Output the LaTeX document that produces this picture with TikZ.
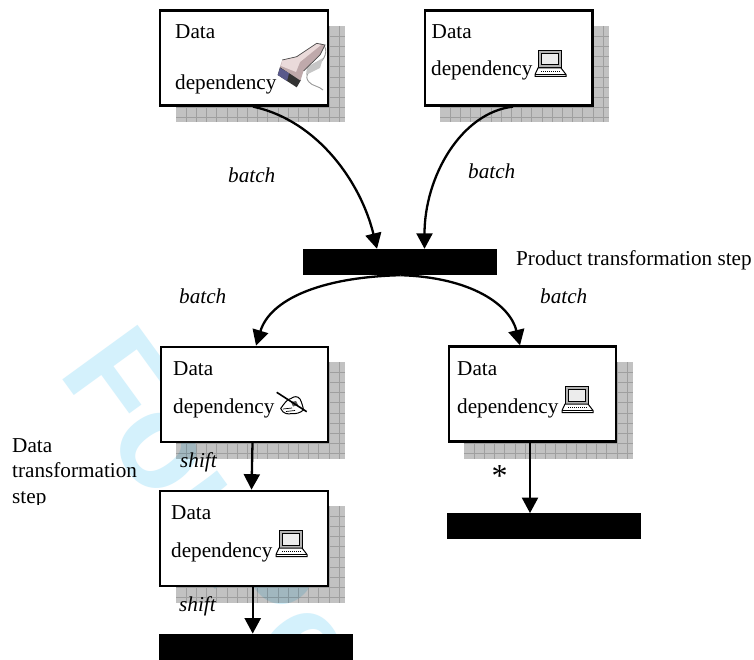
\documentclass[tikz,border=0pt]{standalone}
\usepackage{fontspec}
\setmainfont{Liberation Serif}
\newfontfamily\wmfont{Liberation Sans}
\usetikzlibrary{arrows.meta}
\definecolor{wmblue}{HTML}{D4F1FC}
\definecolor{panelgray}{HTML}{C2C2C2}
\definecolor{gridgray}{HTML}{D2D2D2}
\tikzset{
  databox/.style={draw=black,fill=white,line width=2.3pt,minimum width=167.5pt,minimum height=95pt,inner sep=0pt},
  blackbar/.style={fill=black,draw=none,minimum width=194pt,minimum height=26pt,inner sep=0pt},
  lbl/.style={anchor=base west,inner sep=0pt,font=\fontsize{21.2}{24}\selectfont},
  ilbl/.style={lbl,font=\fontsize{21.2}{24}\selectfont\itshape},
  flow/.style={line width=2.3pt,-{Triangle[length=15.5pt,width=16pt]}},
  shadowpanel/.pic={
    \begin{scope}[blend mode=multiply]
      \fill[panelgray] (0,0) rectangle (169,96.5);
      \draw[gridgray,line width=.8pt] \foreach \k in {1,...,16}{(10.2*\k,0) -- (10.2*\k,96.5)}
                                      \foreach \k in {1,...,9}{(0,10.2*\k) -- (169,10.2*\k)};
    \end{scope}
  },
  laptop/.pic={
    \fill[gray!60,draw=black,line width=1pt] (3,.5) rectangle (26,18);
    \fill[gray!15,draw=black,line width=1pt] (6,3.2) rectangle (23,15);
    \fill[white,draw=black,line width=1pt] (3,18) -- (26,18) -- (31,24.5) -- (31,26.5) -- (0,26.5) -- (0,24.5) -- cycle;
    \draw[black,line width=1.5pt,dash pattern=on 1.1pt off .9pt] (6,21.4) -- (25,21.4);
    \draw[black,line width=.9pt] (0,24.5) -- (31,24.5);
  }
}
\begin{document}
\begin{tikzpicture}[x=1pt,y=-1pt]
\useasboundingbox (0,0) rectangle (754,660);
\fill[white] (0,0) rectangle (754,660);
% watermark
\begin{scope}
\clip (0,0) rectangle (754,660);
\node[anchor=base west,inner sep=0pt,text=wmblue,rotate=-54,font=\fontsize{135}{140}\selectfont\wmfont\bfseries] (wm) at (57,372) {For\hspace{-15pt} Pe};
\end{scope}
% shadows
\pic at (176,26) {shadowpanel};
\pic at (440,26) {shadowpanel};
\pic at (176,362) {shadowpanel};
\pic at (464,362) {shadowpanel};
\pic at (176,506) {shadowpanel};
% boxes
\node[databox] (b1) at (244,58) {};
\node[databox] (b2) at (508.7,58) {};
\node[databox] (b3) at (244.5,394.3) {};
\node[databox] (b4) at (532.5,394) {};
\node[databox] (b5) at (244,538.3) {};
% bars
\node[blackbar] (bar1) at (400.3,262) {};
\node[blackbar] (bar2) at (256,646.8) {};
\node[blackbar] (bar3) at (544.2,526.3) {};
% connectors
\draw[flow] ([xshift=9pt]b1.south) .. controls +(65,14) and +(-16,-66) .. ([xshift=-23.3pt]bar1.north);
\draw[flow] ([xshift=4.3pt]b2.south) .. controls +(-52,6) and +(0,-72) .. ([xshift=24.2pt]bar1.north);
\draw[flow] (bar1.south) .. controls +(-80,2) and +(14,-46) .. ([xshift=11.5pt]b3.north);
\draw[flow] (bar1.south) .. controls +(70,2) and +(-10,-41) .. ([xshift=-12.5pt]b4.north);
\draw[flow] ([xshift=8pt]b3.south) -- ([xshift=7.5pt]b5.north);
\draw[flow] ([xshift=8.7pt]b5.south) -- ([xshift=-3.3pt]bar2.north);
\draw[flow] ([xshift=-2.5pt]b4.south) -- ([xshift=-14.2pt]bar3.north);
% box texts
\node[lbl] (d1) at (175,39) {Data};
\node[lbl] (e1) at (175,90) {dependency};
\node[lbl] (d2) at (431.5,39) {Data};
\node[lbl] (e2) at (431,76) {dependency};
\node[lbl] (d3) at (173,375) {Data};
\node[lbl] (e3) at (173,413) {dependency};
\node[lbl] (d4) at (457,375) {Data};
\node[lbl] (e4) at (457,413) {dependency};
\node[lbl] (d5) at (171,519) {Data};
\node[lbl] (e5) at (171,557) {dependency};
% other labels
\node[ilbl] (l1) at (228,183) {batch};
\node[ilbl] (l2) at (468,179) {batch};
\node[ilbl] (l3) at (179,303) {batch};
\node[ilbl] (l4) at (540,303) {batch};
\node[ilbl] (l5) at (180,467) {shift};
\node[ilbl] (l6) at (179,611) {shift};
\node[lbl] (pt) at (516,265) {Product transformation step};
\node[lbl,font=\fontsize{32}{34}\selectfont] (star) at (491.5,486.5) {*};
\begin{scope}
\clip (0,0) rectangle (754,504);
\node[lbl] (dt1) at (12,452) {Data};
\node[lbl] (dt2) at (12,477) {transformation};
\node[lbl] (dt3) at (12,503) {step};
\end{scope}
% laptop icons
\pic at (535,50) {laptop};
\pic at (562,386) {laptop};
\pic at (276,530) {laptop};
% pen-and-hand icon
\draw[black,line width=1pt,fill=white] (280.7,408.5) .. controls (284,404) and (287,399) .. (291,398.5) .. controls (294,396) and (298,396) .. (300,399) .. controls (302,403) and (303,407) .. (303.5,410) .. controls (300,413) and (296,414) .. (292,413.5) .. controls (288,414.5) and (283,414) .. (280.7,408.5) -- cycle;
\fill[gray!70!black] (291,402) -- (296,401) -- (298,405) -- (293,406.5) -- cycle;
\draw[black,line width=.7pt] (283,409) -- (292,408) (286,411.5) -- (295,410.5);
\draw[black,line width=1.6pt] (276.7,392.3) -- (306.7,411.7);
% scanner icon
\draw[gray!80,line width=.9pt] (320,44) .. controls (328,44) and (328,58) .. (318,64) .. controls (308,70) and (304,77) .. (309,82) .. controls (312,86) and (319,86) .. (323,90);
\fill[gray!45] (307,67) -- (323,58) -- (320,68) -- (306,75) -- cycle;
\fill[black!80] (277.7,75) -- (296.7,87.3) -- (301,80) -- (280,67) -- cycle;
\fill[blue!30!black!65] (277.7,75) -- (287,81) -- (289,73) -- (280,68) -- cycle;
\definecolor{scanbody}{HTML}{BFA9AB}
\definecolor{scanlight}{HTML}{EADADA}
\fill[scanbody] (280,67) -- (282.3,60) -- (296.7,56.7) -- (316.7,43.3) -- (325,45) -- (320,55) -- (303.5,71) -- (300.5,80.5) -- cycle;
\fill[scanlight] (282.3,60) -- (296.7,56.7) -- (316.7,43.3) -- (321,45) -- (300,62) -- (296,72) -- (281,66) -- cycle;
\draw[black!70,line width=.7pt] (282.3,60) -- (296.7,56.7) -- (316.7,43.3) -- (325,45) -- (320,55) -- (303.5,71);
\end{tikzpicture}
\end{document}
